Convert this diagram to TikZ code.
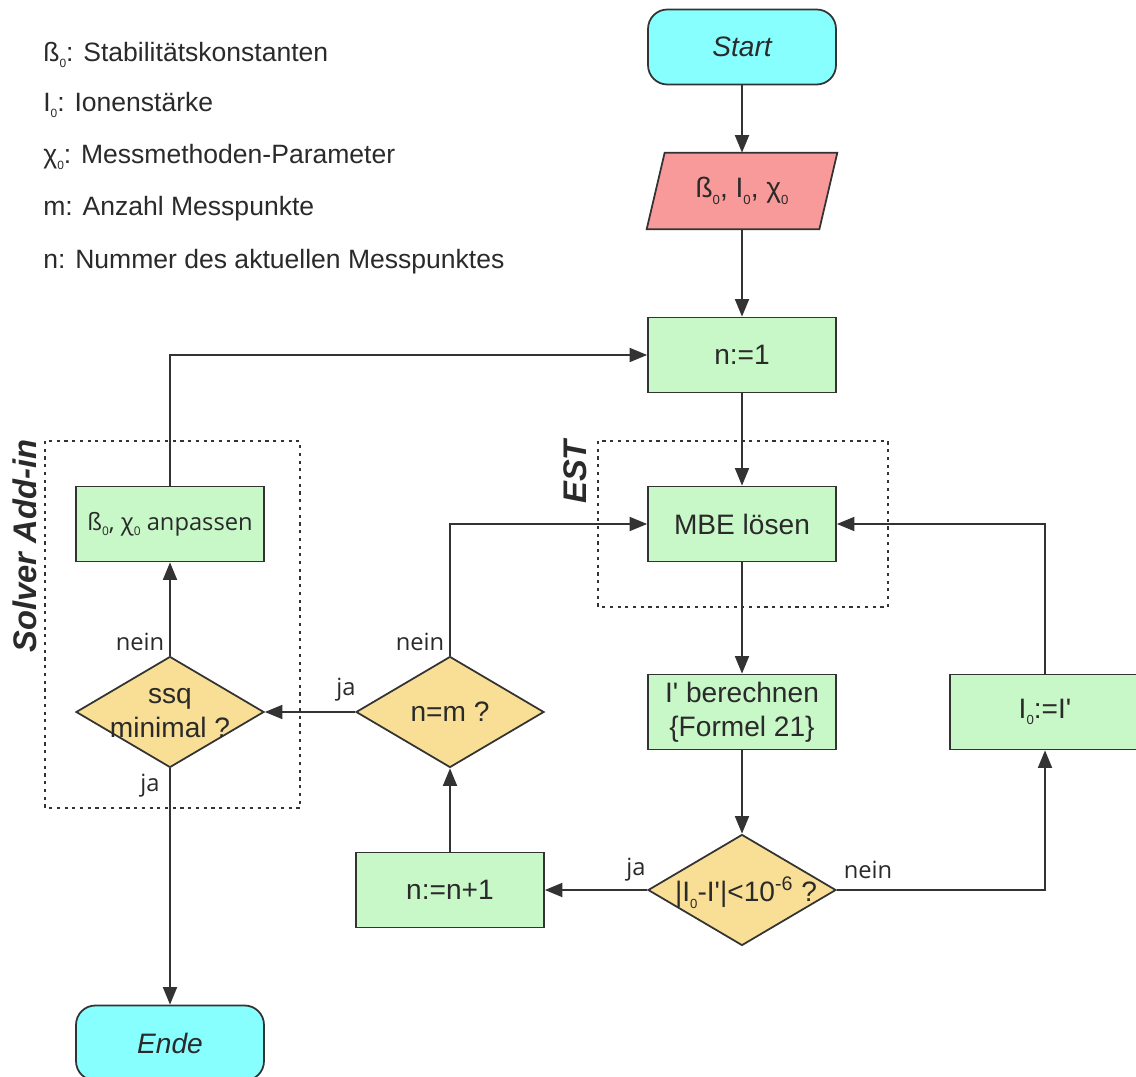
\documentclass[tikz,border=0pt]{standalone}
\usepackage{fontspec}
\setmainfont{Liberation Sans}
\newfontfamily\opensans{Open Sans}
\usetikzlibrary{arrows.meta,shapes.geometric}
\definecolor{cy}{HTML}{88FFFF}
\definecolor{pk}{HTML}{F89A9A}
\definecolor{gr}{HTML}{C8F8C8}
\definecolor{yl}{HTML}{F8DF95}
\definecolor{ln}{HTML}{333333}
\definecolor{tx}{HTML}{2A2A2A}
\newcommand\zsub{\raisebox{-0.45ex}{\fontsize{7.5}{8}\selectfont 0}}
\newcommand\zsubs{\raisebox{-0.45ex}{\fontsize{6.8}{8}\selectfont 0}}
\newcommand\sq{\textquotesingle}
\tikzset{
  mainfont/.style={font=\fontsize{16}{19.5}\selectfont, text=tx},
  term/.style={draw=ln, line width=1pt, fill=cy, rounded corners=11pt, minimum width=3.76cm, minimum height=1.5cm, mainfont},
  proc/.style={draw=ln, line width=1pt, fill=gr, minimum width=3.76cm, minimum height=1.5cm, align=center, mainfont},
  dec/.style={diamond, draw=ln, line width=1pt, fill=yl, minimum width=3.76cm, minimum height=2.22cm, inner sep=0pt},
  dectext/.style={align=center, mainfont, inner sep=0pt},
  arr/.style={-{Triangle[length=10pt,width=8pt]}, draw=ln, line width=1pt},
  lbl/.style={font=\opensans\fontsize{13.5}{16}\selectfont, text=tx, inner sep=0pt},
  leg/.style={font=\fontsize{15.1}{18}\selectfont, text=tx, inner sep=0pt, anchor=west},
  grp/.style={draw=ln, line width=0.9pt, dash pattern=on 1.8pt off 2.6pt},
  grplbl/.style={font=\bfseries\itshape\fontsize{18.6}{21}\selectfont, text=tx, rotate=90, inner sep=0pt}
}
\begin{document}
\begin{tikzpicture}[x=0.02cm,y=-0.02cm]
\useasboundingbox (0,0) rectangle (1136,1077);

% legend
\node[leg] (lg1) at (43,55) {ß\zsubs: Stabilitätskonstanten};
\node[leg] (lg2) at (43,105) {I\zsubs: Ionenstärke};
\node[leg] (lg3) at (43,157) {χ\zsubs: Messmethoden-Parameter};
\node[leg] (lg4) at (43,209) {m: Anzahl Messpunkte};
\node[leg] (lg5) at (43,262) {n: Nummer des aktuellen Messpunktes};

% group boxes
\draw[grp] (598,441) rectangle (888,607);
\draw[grp] (45,441) rectangle (300,808);
\node[grplbl] (estl) at (575,472) {EST};
\node[grplbl] (solvl) at (25,546) {Solver Add-in};

% nodes
\node[term] (start) at (742,47) {\itshape Start};
\node[minimum width=3.44cm, minimum height=1.52cm, inner sep=0pt] (inp) at (742,191) {};
\filldraw[fill=pk, draw=ln, line width=1pt]
  ([xshift=0.18cm]inp.north west) -- ([xshift=0.18cm]inp.north east)
  -- ([xshift=-0.18cm]inp.south east) -- ([xshift=-0.18cm]inp.south west) -- cycle;
\node[mainfont] (inpt) at (inp) {ß\zsub, I\zsub, χ\zsub};
\node[proc] (n1) at (742,355) {n:=1};
\node[proc] (mbe) at (742,524) {MBE lösen};
\node[proc] (ber) at (742,712) {I\sq{} berechnen\\\{Formel 21\}};
\node[dec] (d1) at (742,890) {};
\node[dectext] (d1t) at (746,893) {|I\zsub-I\sq|<10\textsuperscript{-6} ?};
\node[proc] (inc) at (450,890) {n:=n+1};
\node[dec] (d2) at (450,712) {};
\node[dectext] (d2t) at (d2) {n=m ?};
\node[dec] (d3) at (170,712) {};
\node[dectext] (d3t) at (170,713) {ssq\\minimal ?};
\node[proc, font=\opensans\fontsize{13.5}{16}\selectfont] (anp) at (170,524) {ß\zsubs, χ\zsubs{} anpassen};
\node[term] (ende) at (170,1043) {\itshape Ende};
\node[proc, minimum width=3.8cm] (i0) at (1045,712) {I\zsub:=I\sq};

% connectors
\draw[arr] (start) -- (inp);
\draw[arr] (inp) -- (n1);
\draw[arr] (n1) -- (mbe);
\draw[arr] (mbe) -- (ber);
\draw[arr] (ber) -- (d1);
\draw[arr] (d1.west) -- (inc.east);
\draw[arr] (d1.east) -| (i0.south);
\draw[arr] (i0.north) |- (mbe.east);
\draw[arr] (inc) -- (d2);
\draw[arr] (d2.north) |- (mbe.west);
\draw[arr] (d2.west) -- (d3.east);
\draw[arr] (d3.north) -- (anp.south);
\draw[arr] (anp.north) |- (n1.west);
\draw[arr] (d3.south) -- (ende.north);

% labels
\node[lbl] (l1) at (140,642) {nein};
\node[lbl] (l2) at (150,786) {ja};
\node[lbl] (l3) at (346,690) {ja};
\node[lbl] (l4) at (420,642) {nein};
\node[lbl] (l5) at (636,870) {ja};
\node[lbl] (l6) at (868,870) {nein};
\end{tikzpicture}
\end{document}
